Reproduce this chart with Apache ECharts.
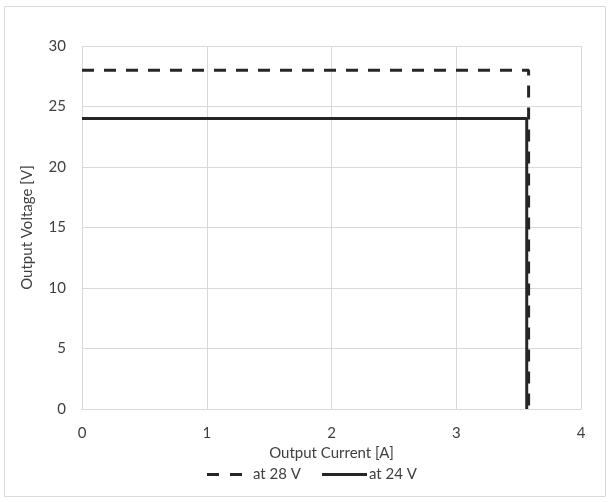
<!DOCTYPE html>
<html><head><meta charset="utf-8">
<script src="https://cdn.jsdelivr.net/npm/echarts@6/dist/echarts.min.js"></script>
<style>html,body{margin:0;padding:0;background:#fff}#c{width:611px;height:502px}</style>
</head><body><div id="c"></div>
<script>
const seriesNames = ['at 28 V', 'at 24 V'];
const current28 = [0, 3.58, 3.58];
const voltage28 = [28, 28, 0];
const current24 = [0, 3.565, 3.565];
const voltage24 = [24, 24, 0];
const xTicks = [0, 1, 2, 3, 4];
const yTicks = [0, 5, 10, 15, 20, 25, 30];

const zip = (a, b) => a.map((v, i) => [v, b[i]]);
const font = 'Lato, Open Sans, sans-serif';
const fs = 15;
const chart = echarts.init(document.getElementById('c'));
chart.setOption({
  animation: false,
  backgroundColor: '#fff',
  graphic: [{type: 'rect', shape: {x: 4.5, y: 6.5, width: 601, height: 490}, style: {fill: 'none', stroke: '#d9d9d9', lineWidth: 1}}],
  grid: {left: 82, right: 30, top: 46, bottom: 93},
  xAxis: {
    type: 'value', min: 0, max: 4, interval: 1,
    name: 'Output Current [A]', nameLocation: 'middle', nameGap: 36,
    nameTextStyle: {color: '#404040', fontSize: fs, fontFamily: font},
    axisLine: {show: true, lineStyle: {color: '#d9d9d9'}},
    axisTick: {show: false},
    axisLabel: {color: '#404040', fontSize: fs, fontFamily: font, margin: 17},
    splitLine: {show: true, lineStyle: {color: '#d9d9d9'}}
  },
  yAxis: {
    type: 'value', min: 0, max: 30, interval: 5,
    name: 'Output Voltage [V]', nameLocation: 'middle', nameGap: 47,
    nameTextStyle: {color: '#404040', fontSize: fs, fontFamily: font},
    axisLine: {show: false},
    axisTick: {show: false},
    axisLabel: {color: '#404040', fontSize: fs, fontFamily: font, margin: 16},
    splitLine: {show: true, lineStyle: {color: '#d9d9d9'}}
  },
  legend: [
    {left: 207, top: 467, itemWidth: 35, itemHeight: 3, padding: 0,
     textStyle: {color: '#404040', fontSize: fs, fontFamily: font, padding: [0, 0, 0, 6]},
     data: [{name: seriesNames[0], icon: 'path://M0,0h12v3h-12zM23,0h12v3h-12z'}]},
    {left: 322, top: 467, itemWidth: 45, itemHeight: 3, padding: 0,
     textStyle: {color: '#404040', fontSize: fs, fontFamily: font, padding: [0, 0, 0, -3]},
     data: [{name: seriesNames[1], icon: 'rect'}]}
  ],
  series: [
    {name: seriesNames[0], type: 'line', data: zip(current28, voltage28), symbol: 'none',
     lineStyle: {color: '#262626', width: 3, type: [12, 10]}, itemStyle: {color: '#262626'}},
    {name: seriesNames[1], type: 'line', data: zip(current24, voltage24), symbol: 'none',
     lineStyle: {color: '#262626', width: 3}, itemStyle: {color: '#262626'}}
  ]
});
</script></body></html>
